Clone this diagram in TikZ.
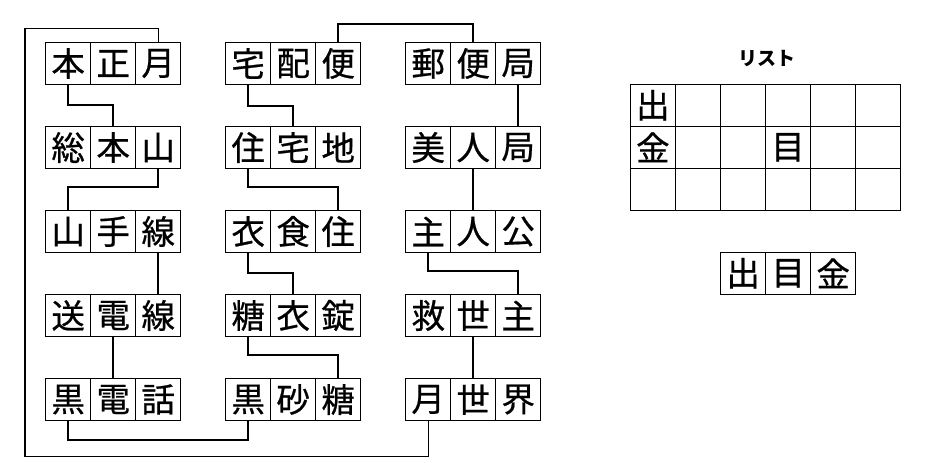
\documentclass[tikz,border=0pt]{standalone}
\usepackage{fontspec}
\newfontfamily\cjk[FakeBold=0.6]{Noto Sans CJK JP}
\newfontfamily\cjktitle{Noto Sans CJK JP}
\tikzset{
    cell/.style={draw, line width=0.9pt, minimum width=45pt, minimum height=42pt, inner sep=0pt, font=\cjk\fontsize{33.5}{33.5}\selectfont}, % 一マス
    link/.style={line width=1.8pt}, % 熟語をつなぐ線
    outer link/.style={line width=1.2pt} % 外側を回る線
}

\begin{document}
\begin{tikzpicture}[x=1pt, y=-1pt]
    \useasboundingbox (0,0) rectangle (946,463);

    % 三文字の熟語 (名前/中心x/中心y/文字)
    \foreach \nm/\x/\y/\a/\b/\c in {
        A1/68.2/63.5/本/正/月,
        A2/68.2/147.5/総/本/山,
        A3/68.2/231.5/山/手/線,
        A4/68.2/315.5/送/電/線,
        A5/68.2/399.5/黒/電/話,
        B1/248.2/63.5/宅/配/便,
        B2/248.2/147.5/住/宅/地,
        B3/248.2/231.5/衣/食/住,
        B4/248.2/315.5/糖/衣/錠,
        B5/248.2/399.5/黒/砂/糖,
        C1/428.2/63.5/郵/便/局,
        C2/428.2/147.5/美/人/局,
        C3/428.2/231.5/主/人/公,
        C4/428.2/315.5/救/世/主,
        C5/428.2/399.5/月/世/界
    } {
        \node[cell] (\nm a) at (\x,\y) {\a};
        \node[cell] (\nm b) at (\x+45,\y) {\b};
        \node[cell] (\nm c) at (\x+90,\y) {\c};
    }

    % 左の列
    \draw[link] (A1a.south) -- ++(0,20) -| (A2b.north);
    \draw[link] (A2c.south) -- ++(0,18) -| (A3a.north);
    \draw[link] (A3c.south) -- (A4c.north);
    \draw[link] (A4b.south) -- (A5b.north);
    \draw[link] (A5a.south) -- ++(0,19) -| (B5a.south);

    % 中の列
    \draw[link] (B1a.south) -- ++(0,21) -| (B2b.north);
    \draw[link] (B2a.south) -- ++(0,18) -| (B3c.north);
    \draw[link] (B3a.south) -- ++(0,20) -| (B4b.north);
    \draw[link] (B4a.south) -- ++(0,18) -| (B5c.north);
    \draw[link] (B1c.north) -- ++(0,-18) -| (C1b.north);

    % 右の列
    \draw[link] (C1c.south) -- (C2c.north);
    \draw[link] (C2b.south) -- (C3b.north);
    \draw[link] (C3a.south) -- ++(0,18) -| (C4c.north);
    \draw[link] (C4b.south) -- (C5b.north);

    % 外回り
    \coordinate (loopTop) at (25,28.3);
    \coordinate (loopBottom) at (25,456.7);
    \draw[outer link] (A1c.north) |- (loopTop) -- (loopBottom) -| (C5a.south);

    % リスト
    \node[font=\cjktitle\bfseries\fontsize{19}{19}\selectfont] (listTitle) at (766.7,58.3) {リスト};
    \foreach \r in {1,2,3} {
        \foreach \c in {1,...,6} {
            \node[cell] (L\r\c) at ({652.9+45*(\c-1)}, {105.3+42*(\r-1)}) {};
        }
    }
    \node[cell, draw=none] (listDe) at (L11) {出};
    \node[cell, draw=none] (listKin) at (L21) {金};
    \node[cell, draw=none] (listMe) at (L24) {目};

    % 答え
    \foreach \nm/\x/\t in {
        Xa/743.2/出,
        Xb/788.2/目,
        Xc/833.2/金
    } {
        \node[cell] (\nm) at (\x,273.3) {\t};
    }
\end{tikzpicture}
\end{document}
